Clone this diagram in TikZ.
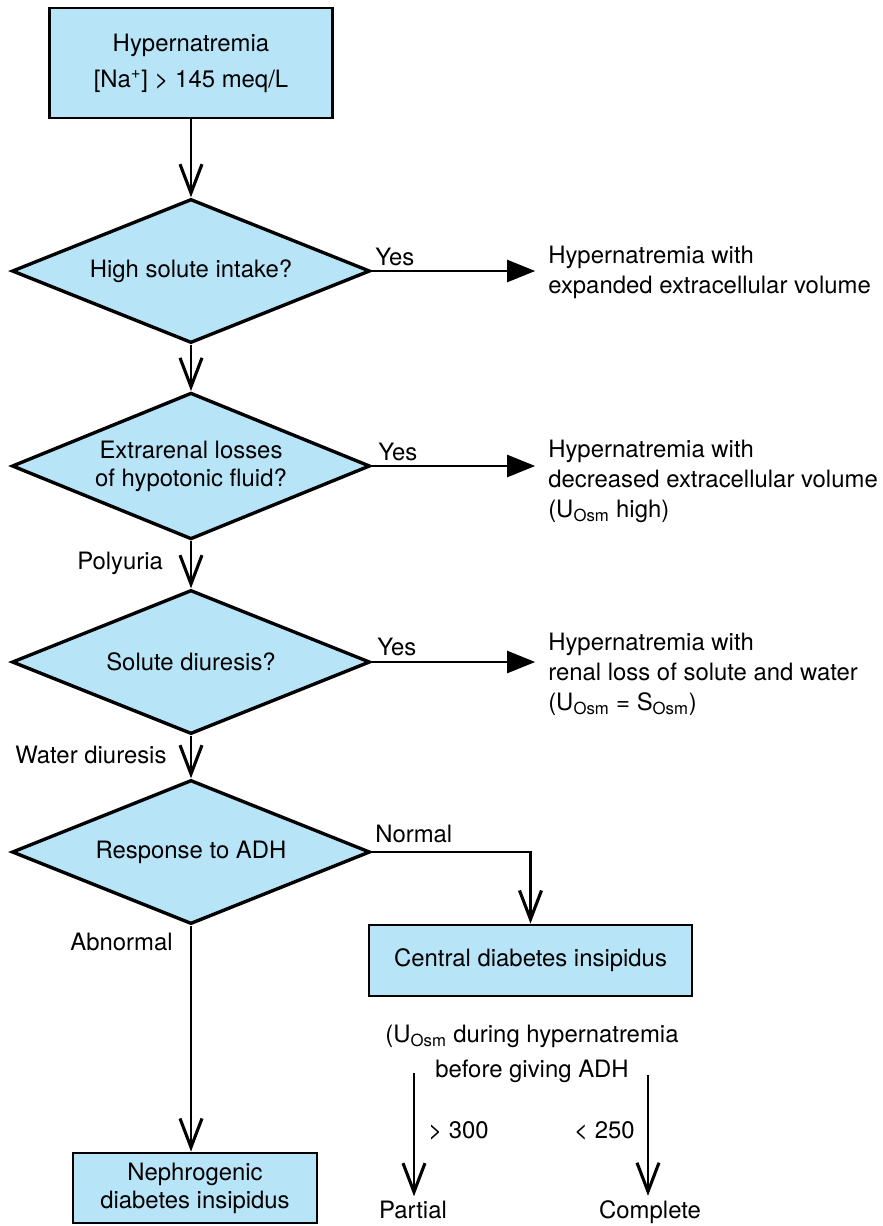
\documentclass[tikz,border=0pt]{standalone}
\usepackage{fontspec}
\setmainfont{TeX Gyre Heros}
\usetikzlibrary{shapes.geometric,arrows.meta}
\definecolor{boxblue}{RGB}{184,228,248}
\tikzset{
  box/.style={draw,line width=2pt,fill=boxblue,inner sep=0pt,align=center},
  question/.style={diamond,draw,line width=2.4pt,fill=boxblue,inner sep=0pt,aspect=2,
    minimum width=8.95cm,minimum height=3.6cm,align=center},
  flow/.style={line width=1.6pt,-{Straight Barb[length=0.72cm,width=0.55cm,line width=2.2pt]}},
  yesflow/.style={line width=1.6pt,-{Triangle[length=0.7cm,width=0.55cm]}},
  result/.style={anchor=base west,inner sep=0pt,align=left},
  lbl/.style={anchor=base west,inner sep=0pt}
}
\begin{document}
\begin{tikzpicture}[x=0.025cm,y=-0.025cm,font=\fontsize{17}{21.3}\selectfont]
    \useasboundingbox (0,0) rectangle (883,1226);
    % Boxes and questions down the left
    \node[box,minimum width=7.075cm,minimum height=2.75cm,font=\fontsize{17}{25.6}\selectfont] (start) at (191,63) {Hypernatremia\\{}[Na\textsuperscript{+}] > 145 meq/L};
    \node[question] (intake) at (191,271) {High solute intake?};
    \node[question,font=\fontsize{17}{20}\selectfont] (extrarenal) at (191,466) {Extrarenal losses\\of hypotonic fluid?};
    \node[question] (solute) at (191,662) {Solute diuresis?};
    \node[question] (adh) at (191,852) {Response to ADH};
    \node[box,minimum width=8.075cm,minimum height=1.775cm] (central) at (530.5,960.5) {Central diabetes insipidus};
    \node[box,minimum width=6.1cm,minimum height=1.75cm,font=\fontsize{17}{20}\selectfont] (nephro) at (195,1188) {Nephrogenic\\diabetes insipidus};

    % Outcomes on the right (base = last line)
    \node[result] (res1) at (548,293) {Hypernatremia with\\expanded extracellular volume};
    \node[result] (res2) at (548,517) {Hypernatremia with\\decreased extracellular volume\\(U\textsubscript{Osm} high)};
    \node[result] (res3) at (548,710) {Hypernatremia with\\renal loss of solute and water\\(U\textsubscript{Osm} = S\textsubscript{Osm})};

    % Partial or complete
    \node[anchor=base,inner sep=0pt,align=center,font=\fontsize{17}{24.8}\selectfont] (uosm) at (532,1077) {(U\textsubscript{Osm} during hypernatremia\\before giving ADH};
    \node[anchor=base,inner sep=0pt] (partial) at (413,1218) {Partial};
    \node[anchor=base,inner sep=0pt] (complete) at (650,1218) {Complete};
    \coordinate (pstart) at (414,1073);
    \coordinate (cstart) at (648,1075);

    % Labels
    \node[lbl] (yes1) at (375,265) {Yes};
    \node[lbl] (yes2) at (378,460) {Yes};
    \node[lbl] (yes3) at (377,655) {Yes};
    \node[lbl] (normal) at (375,842) {Normal};
    \node[lbl] (polyuria) at (77,569) {Polyuria};
    \node[lbl] (water) at (15,763) {Water diuresis};
    \node[lbl] (abnormal) at (70,950) {Abnormal};
    \node[lbl] (gt300) at (428,1138) {> 300};
    \node[anchor=base east,inner sep=0pt] (lt250) at (635,1138) {< 250};

    % Connectors
    \draw[flow] (start.south) -- (intake.north);
    \draw[flow] (intake.south) -- (extrarenal.north);
    \draw[flow] (extrarenal.south) -- (solute.north);
    \draw[flow] (solute.south) -- (adh.north);
    \draw[yesflow,shorten >=0.32cm] (intake.east) -- (intake.east -| res1.west);
    \draw[yesflow,shorten >=0.32cm] (extrarenal.east) -- (extrarenal.east -| res2.west);
    \draw[yesflow,shorten >=0.32cm] (solute.east) -- (solute.east -| res3.west);
    \draw[flow] (adh.east) -| (central.north);
    \draw[flow] (adh.south) -- (adh.south |- nephro.north);
    \draw[flow,shorten >=0.1cm] (pstart) -- (pstart |- partial.north);
    \draw[flow,shorten >=0.1cm] (cstart) -- (cstart |- complete.north);
\end{tikzpicture}
\end{document}
